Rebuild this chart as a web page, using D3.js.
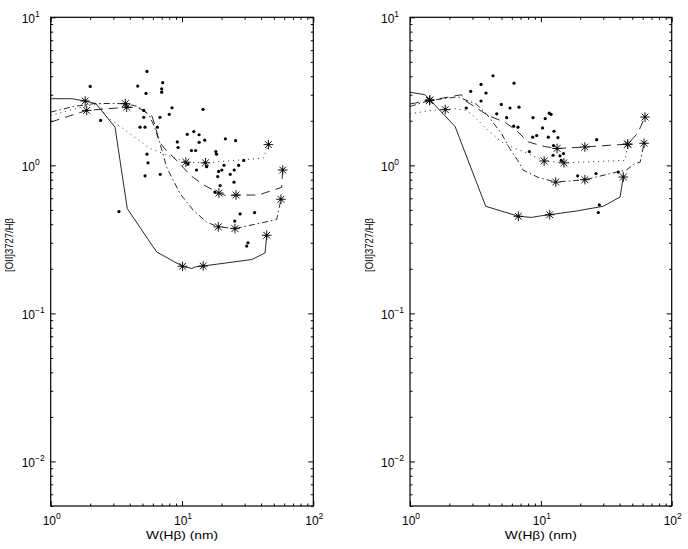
<!DOCTYPE html>
<html lang="en">
<head>
<meta charset="UTF-8">
<title>[OII]3727/Hβ vs W(Hβ)</title>
<script src="https://d3js.org/d3.v7.min.js"></script>
<style>
    body { margin: 0; background: #fff; }
    text { font-family: "Liberation Sans", Arial, sans-serif; fill: #000; }
</style>
</head>
<body>
<script>

    // axis ticks / labels
    var xTickValues = [1, 10, 100];
    var xTickExps = ['0', '1', '2'];
    var yTickValues = [0.01, 0.1, 1, 10];
    var yTickExps = ['\u22122', '\u22121', '0', '1'];

    // ---------- LEFT PANEL ----------
    var leftDotsX = [5.41, 2.0, 4.6, 7.13, 7.0, 7.0, 5.32, 8.39, 5.11, 8.0, 2.40, 5.11, 6.80, 4.79, 5.23, 6.49,
        10.97, 9.21, 9.33, 5.41, 5.51, 5.23, 6.83, 3.31, 14.45, 12.3, 13.5, 13.5, 14.9, 21.4, 25.6, 11.8, 12.7,
        18.1, 18.3, 11.1, 15.4, 29.5, 27.0, 20.9, 25.0, 23.3, 19.0, 20.1, 12.9, 18.7, 24.9, 19.5, 17.8, 27.7,
        35.7, 25.2, 31.8, 31.1];
    var leftDotsY = [4.31, 3.41, 3.43, 3.62, 3.29, 3.12, 3.06, 2.45, 2.35, 2.21, 2.01, 2.11, 2.11, 1.81, 1.81, 1.81,
        1.62, 1.44, 1.32, 1.19, 1.04, 0.85, 0.87, 0.487, 2.39, 1.69, 1.61, 1.43, 1.48, 1.51, 1.47, 1.26, 1.26,
        1.24, 1.19, 1.02, 0.98, 1.08, 1.0, 1.0, 0.93, 0.87, 0.91, 0.93, 0.93, 0.84, 0.77, 0.73, 0.66, 0.47,
        0.48, 0.42, 0.30, 0.285];

    var leftSolidX = [1, 1.45, 1.83, 2.21, 3.09, 3.83, 6.41, 10.1, 11.9, 12.6, 14.5, 34, 42.9, 44.2];
    var leftSolidY = [2.82, 2.82, 2.72, 2.61, 1.81, 0.51, 0.26, 0.208, 0.201, 0.206, 0.209, 0.231, 0.256, 0.337];
    var leftSolidStars = [2, 7, 10, 13];

    var leftDashX = [1, 1.88, 3.79, 4.65, 5.88, 6.3, 6.7, 7.6, 9.4, 11.5, 14.5, 19.1, 22, 25.8, 38, 57.4, 58.5];
    var leftDashY = [1.96, 2.35, 2.47, 2.45, 2.17, 1.81, 1.44, 1.26, 1.05, 0.86, 0.74, 0.65, 0.62, 0.63, 0.63, 0.71, 0.93];
    var leftDashStars = [1, 2, 11, 13, 16];

    var leftDashDotX = [1, 1.5, 2.2, 3.7, 4.6, 5.6, 6.2, 6.8, 7.65, 9.66, 12.2, 15.4, 18.9, 25.3, 52.6, 56.7];
    var leftDashDotY = [2.29, 2.5, 2.62, 2.61, 2.5, 2.2, 1.8, 1.4, 0.97, 0.644, 0.497, 0.414, 0.384, 0.374, 0.43, 0.59];
    var leftDashDotStars = [3, 12, 13, 15];

    var leftDotX = [1, 1.5, 2.0, 2.38, 2.59, 3.18, 4.0, 5.7, 7.2, 10.7, 15.1, 41.7, 45.5];
    var leftDotY = [2.17, 2.4, 2.55, 2.6, 2.17, 1.91, 1.64, 1.30, 1.20, 1.05, 1.04, 1.12, 1.38];
    var leftDotStars = [9, 10, 12];

    // ---------- RIGHT PANEL ----------
    var rightDotsX = [4.31, 3.49, 6.24, 2.91, 3.81, 3.49, 4.99, 5.81, 6.81, 2.69, 4.60, 5.48, 6.20, 6.69, 8.71, 10.8,
        11.6, 11.97, 10.3, 8.66, 9.29, 11.4, 12.6, 13.5, 8.17, 12.5, 12.4, 14.9, 14.0, 14.3, 26.7, 19.1, 26.4,
        39.1, 28.0, 27.5];
    var rightDotsY = [4.03, 3.52, 3.59, 3.16, 3.08, 2.72, 2.58, 2.44, 2.47, 2.44, 2.23, 2.10, 1.84, 1.81, 2.10, 2.07,
        2.25, 2.21, 1.79, 1.55, 1.59, 1.55, 1.70, 1.54, 1.24, 1.36, 1.17, 1.20, 1.16, 1.08, 1.49, 0.85, 0.88,
        0.90, 0.54, 0.48];

    var rightSolidX = [1, 1.30, 1.42, 2.21, 3.79, 6.73, 8.5, 9.86, 11.7, 18.8, 30, 40.3, 42.7];
    var rightSolidY = [3.12, 3.0, 2.77, 1.83, 0.529, 0.453, 0.445, 0.455, 0.464, 0.492, 0.529, 0.611, 0.834];
    var rightSolidStars = [2, 5, 8, 12];

    var rightDashX = [1, 1.41, 2.47, 2.62, 3.95, 5.29, 6.5, 7.98, 10.7, 13.3, 21.7, 35, 46.1, 55, 62.5];
    var rightDashY = [2.6, 2.74, 3.0, 2.75, 2.17, 1.96, 1.72, 1.44, 1.34, 1.30, 1.33, 1.37, 1.39, 1.65, 2.12];
    var rightDashStars = [1, 9, 10, 12, 14];

    var rightDashDotX = [1, 1.41, 2.3, 3.2, 3.83, 5.0, 5.78, 6.89, 7.31, 9.51, 13.0, 21.7, 38, 45, 52.4, 57.4, 61.5];
    var rightDashDotY = [2.5, 2.74, 2.9, 2.6, 2.23, 1.64, 1.30, 1.03, 0.93, 0.83, 0.771, 0.80, 0.90, 0.93, 1.03, 1.05, 1.41];
    var rightDashDotStars = [10, 11, 16];

    var rightDotX = [1, 1.45, 1.86, 2.26, 2.7, 3.12, 3.95, 4.99, 6.31, 7.53, 10.6, 15.0, 44, 46.1];
    var rightDotY = [2.23, 2.35, 2.38, 2.41, 2.35, 2.12, 1.72, 1.44, 1.30, 1.23, 1.07, 1.04, 1.08, 1.39];
    var rightDotStars = [2, 10, 11, 13];


    var W = 688, H = 549;
    var plotTop = 17.3, plotBottom = 506;   // ("top" is taken by window.top)

    var svg = d3.select('body')
        .append('svg')
        .attr('width', W)
        .attr('height', H);

    var DASH = '9,6', DASHDOT = '6,3,1.5,3', DOT = '1,4';

    // asterisk marker (8 arms)
    function starPath(r) {
        var a = r * 0.7071;
        return 'M' + (-r) + ',0L' + r + ',0M0,' + (-r) + 'L0,' + r +
            'M' + (-a) + ',' + (-a) + 'L' + a + ',' + a + 'M' + (-a) + ',' + a + 'L' + a + ',' + (-a);
    }

    function drawPanel(left, right, dotsX, dotsY, series) {
        var x = d3.scaleLog().domain([1, 100]).range([left, right]);
        var y = d3.scaleLog().domain([0.005, 10]).range([plotBottom, plotTop]);
        var g = svg.append('g');

        var minorX = x.ticks().filter(function (d) { return xTickValues.indexOf(d) < 0; });
        var minorY = y.ticks().filter(function (d) { return yTickValues.indexOf(d) < 0; });

        // inward ticks on all four sides: major + minor
        function ticks(axis, scale, vals, size, tr) {
            g.append('g')
                .attr('transform', tr)
                .call(axis(scale).tickValues(vals).tickSize(-size).tickFormat(''))
                .call(function (s) {
                    s.select('.domain').remove();
                    s.selectAll('line').attr('stroke', '#000').attr('stroke-width', 1);
                });
        }
        ticks(d3.axisBottom, x, xTickValues, 5, 'translate(0,' + plotBottom + ')');
        ticks(d3.axisBottom, x, minorX, 2.5, 'translate(0,' + plotBottom + ')');
        ticks(d3.axisTop, x, xTickValues, 5, 'translate(0,' + plotTop + ')');
        ticks(d3.axisTop, x, minorX, 2.5, 'translate(0,' + plotTop + ')');
        ticks(d3.axisLeft, y, yTickValues, 5, 'translate(' + left + ',0)');
        ticks(d3.axisLeft, y, minorY, 2.5, 'translate(' + left + ',0)');
        ticks(d3.axisRight, y, yTickValues, 5, 'translate(' + right + ',0)');
        ticks(d3.axisRight, y, minorY, 2.5, 'translate(' + right + ',0)');

        // frame
        g.append('rect')
            .attr('x', left).attr('y', plotTop)
            .attr('width', right - left).attr('height', plotBottom - plotTop)
            .attr('fill', 'none').attr('stroke', '#000').attr('stroke-width', 1.2);

        // tick labels 10^n
        var xl = g.selectAll('.xlab').data(xTickValues).enter().append('text')
            .attr('x', function (d) { return x(d) + 1; })
            .attr('y', plotBottom + 19)
            .attr('text-anchor', 'middle')
            .style('font-size', '12px');
        xl.append('tspan').text('10');
        xl.append('tspan').attr('dy', -6).style('font-size', '8.5px')
            .text(function (d, i) { return xTickExps[i]; });

        var yl = g.selectAll('.ylab').data(yTickValues).enter().append('text')
            .attr('x', left - 29)
            .attr('y', function (d) { return y(d) + 6; })
            .style('font-size', '12px');
        yl.append('tspan').text('10');
        yl.append('tspan').attr('dy', -6).style('font-size', '8.5px')
            .text(function (d, i) { return yTickExps[i]; });

        // axis titles
        g.append('text')
            .attr('x', (left + right) / 2)
            .attr('y', 538.5)
            .attr('text-anchor', 'middle')
            .attr('textLength', 72)
            .attr('lengthAdjust', 'spacingAndGlyphs')
            .style('font-size', '11.5px')
            .text('W(H\u03B2) (nm)');

        g.append('text')
            .attr('transform', 'translate(' + (left - 37.5) + ',245) rotate(-90)')
            .attr('text-anchor', 'middle')
            .attr('textLength', 54)
            .attr('lengthAdjust', 'spacingAndGlyphs')
            .style('font-size', '10.5px')
            .text('[OII]3727/H\u03B2');

        // model curves with asterisks
        var line = d3.line()
            .x(function (d) { return x(d[0]); })
            .y(function (d) { return y(d[1]); });

        series.forEach(function (s) {
            var pts = s.xs.map(function (v, i) { return [v, s.ys[i]]; });
            g.append('path')
                .datum(pts)
                .attr('d', line)
                .attr('fill', 'none')
                .attr('stroke', '#111')
                .attr('stroke-width', 0.9)
                .attr('stroke-dasharray', s.dash);

            var st = g.selectAll(null)
                .data(s.stars.map(function (i) { return pts[i]; }))
                .enter().append('g')
                .attr('transform', function (d) { return 'translate(' + x(d[0]) + ',' + y(d[1]) + ')'; });
            st.append('path')
                .attr('d', starPath(4.8))
                .attr('stroke', '#111')
                .attr('stroke-width', 1);
            st.append('circle').attr('r', 1.4).attr('fill', '#111');
        });

        // observed points
        g.selectAll('.dot')
            .data(dotsX.map(function (v, i) { return [v, dotsY[i]]; }))
            .enter().append('circle')
            .attr('cx', function (d) { return x(d[0]); })
            .attr('cy', function (d) { return y(d[1]); })
            .attr('r', 1.6)
            .attr('fill', '#000');
    }

    drawPanel(50.7, 313.3, leftDotsX, leftDotsY, [
        { xs: leftSolidX, ys: leftSolidY, stars: leftSolidStars, dash: null },
        { xs: leftDashX, ys: leftDashY, stars: leftDashStars, dash: DASH },
        { xs: leftDashDotX, ys: leftDashDotY, stars: leftDashDotStars, dash: DASHDOT },
        { xs: leftDotX, ys: leftDotY, stars: leftDotStars, dash: DOT }
    ]);

    drawPanel(410, 671.7, rightDotsX, rightDotsY, [
        { xs: rightSolidX, ys: rightSolidY, stars: rightSolidStars, dash: null },
        { xs: rightDashX, ys: rightDashY, stars: rightDashStars, dash: DASH },
        { xs: rightDashDotX, ys: rightDashDotY, stars: rightDashDotStars, dash: DASHDOT },
        { xs: rightDotX, ys: rightDotY, stars: rightDotStars, dash: DOT }
    ]);

</script>
</body>
</html>
